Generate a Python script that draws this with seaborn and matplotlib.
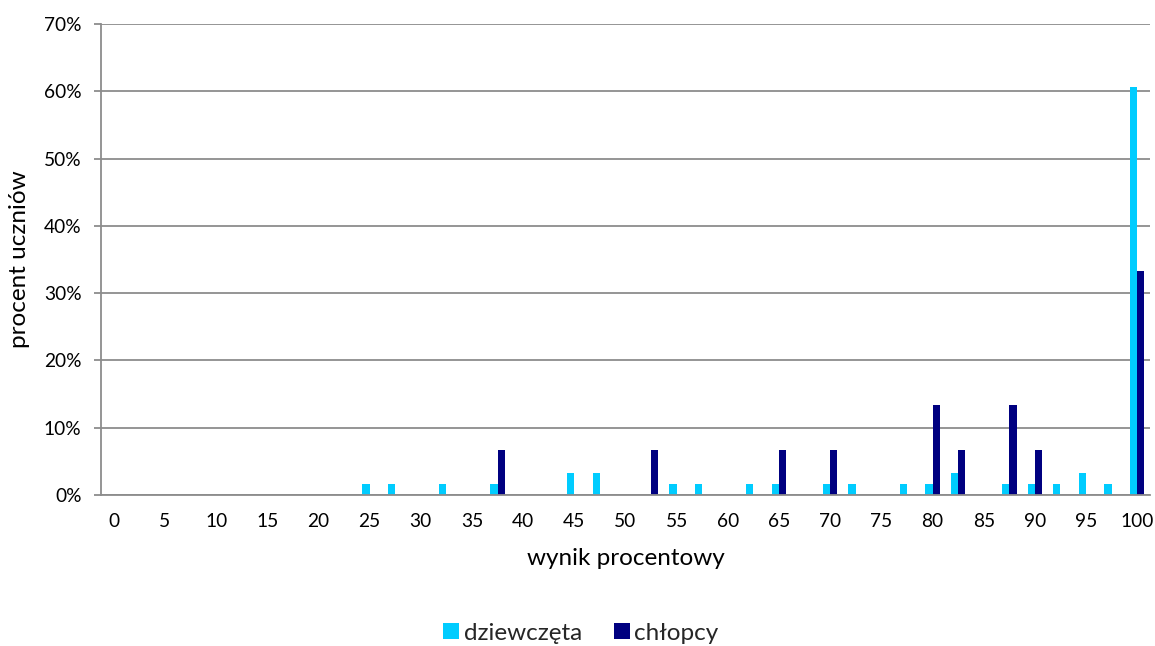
import matplotlib
matplotlib.use("Agg")
import matplotlib.pyplot as plt
import seaborn as sns
import pandas as pd
from matplotlib.patches import Patch
from matplotlib.ticker import FuncFormatter

scores = [0, 2.5, 5, 7.5, 10, 12.5, 15, 17.5, 20, 22.5, 25, 27.5, 30, 32.5, 35, 37.5,
          40, 42.5, 45, 47.5, 50, 52.5, 55, 57.5, 60, 62.5, 65, 67.5, 70, 72.5, 75,
          77.5, 80, 82.5, 85, 87.5, 90, 92.5, 95, 97.5, 100]

girls = [0, 0, 0, 0, 0, 0, 0, 0, 0, 0,
         1.64, 1.64, 0, 1.64, 0, 1.64, 0, 0, 3.28, 3.28,
         0, 0, 1.64, 1.64, 0, 1.64, 1.64, 0, 1.64, 1.64,
         0, 1.64, 1.64, 3.28, 0, 1.64, 1.64, 1.64, 3.28, 1.64,
         60.66]

boys = [0, 0, 0, 0, 0, 0, 0, 0, 0, 0,
        0, 0, 0, 0, 0, 6.67, 0, 0, 0, 0,
        0, 6.67, 0, 0, 0, 0, 6.67, 0, 6.67, 0,
        0, 0, 13.33, 6.67, 0, 13.33, 6.67, 0, 0, 0,
        33.33]

series_names = ["dziewczęta", "chłopcy"]
colors = ["#00CCFF", "#000080"]
tick_labels = ["0", "5", "10", "15", "20", "25", "30", "35", "40", "45", "50",
               "55", "60", "65", "70", "75", "80", "85", "90", "95", "100"]

cat_labels = [f"{s:g}" for s in scores]
df = pd.DataFrame({
    "score": cat_labels * 2,
    "value": girls + boys,
    "group": [series_names[0]] * len(scores) + [series_names[1]] * len(scores),
})

sns.set_theme(style="white")
plt.rcParams["font.family"] = ["Lato", "DejaVu Sans"]

fig = plt.figure(figsize=(11.55, 6.46), dpi=100)
ax = fig.add_axes([101 / 1155, 1 - 495 / 646, (1150 - 101) / 1155, (495 - 24) / 646])

sns.barplot(data=df, x="score", y="value", hue="group", order=cat_labels,
            hue_order=series_names, palette=colors, width=0.57, gap=0,
            saturation=1, linewidth=0, ax=ax, legend=False)

ax.set_ylim(0, 70)
ax.set_yticks(range(0, 71, 10))
ax.yaxis.set_major_formatter(FuncFormatter(lambda v, p: f"{v:.0f}%"))
ax.set_xlim(-0.5, len(scores) - 0.5)
ax.set_xticks(range(0, len(scores), 2))
ax.set_xticklabels(tick_labels)

grid_c = "#8C8C8C"
ax.grid(axis="y", color=grid_c, linewidth=1.3)
ax.set_axisbelow(True)
for s in ["top", "right"]:
    ax.spines[s].set_visible(False)
for s in ["left", "bottom"]:
    ax.spines[s].set_color(grid_c)
    ax.spines[s].set_linewidth(1.3)

ax.tick_params(axis="y", length=5, width=1.3, color=grid_c, pad=9, labelsize=13.8,
               labelcolor="#000000", left=True)
ax.tick_params(axis="x", length=0, pad=13, labelsize=13.8, labelcolor="#000000")

ax.set_xlabel("wynik procentowy", fontsize=17.5, labelpad=13, color="#000000")
ax.set_ylabel("procent uczniów", fontsize=17.5, labelpad=10, color="#000000")

handles = [Patch(facecolor=c, edgecolor="none") for c in colors]
fig.legend(handles, series_names, loc="center", bbox_to_anchor=(0.503, 0.02),
           ncol=2, frameon=False, fontsize=17.5, handlelength=0.65, handleheight=0.65,
           handletextpad=0.2, columnspacing=1.3)

fig.savefig("out.png", dpi=100)
